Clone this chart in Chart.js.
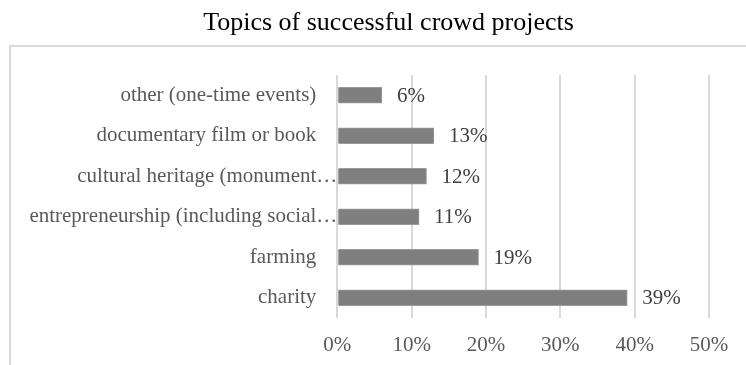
<!DOCTYPE html>
<html>
<head>
<meta charset="utf-8">
<script src="https://cdn.jsdelivr.net/npm/chart.js@4/dist/chart.umd.min.js"></script>
<style>
  html, body { margin: 0; padding: 0; background: #ffffff; }
  #wrap { width: 746px; height: 365px; position: relative; }
</style>
</head>
<body>
<div id="wrap"><canvas id="c" width="746" height="365"></canvas></div>
<script>
const titleText = "Topics of successful crowd projects";
const categories = [
  "other (one-time events)",
  "documentary film or book",
  "cultural heritage (monument\u2026",
  "entrepreneurship (including social\u2026",
  "farming",
  "charity"
];
const shares = [6, 13, 12, 11, 19, 39];
const xTicks = [0, 10, 20, 30, 40, 50];

const FONT = '"Liberation Serif", "Times New Roman", Times, serif';

const framePlugin = {
  id: 'frame',
  beforeDraw(chart) {
    const ctx = chart.ctx;
    ctx.save();
    ctx.strokeStyle = '#d9d9d9';
    ctx.lineWidth = 2;
    ctx.strokeRect(10, 46, 800, 400);
    ctx.restore();
  },
  afterDraw(chart) {
    const ctx = chart.ctx;
    ctx.save();
    ctx.fillStyle = '#000000';
    ctx.font = '26px ' + FONT;
    ctx.textAlign = 'center';
    ctx.textBaseline = 'alphabetic';
    ctx.fillText(titleText, 388.5, 30);
    ctx.restore();
  }
};

const valueLabels = {
  id: 'valueLabels',
  afterDatasetsDraw(chart) {
    const ctx = chart.ctx;
    const meta = chart.getDatasetMeta(0);
    const data = chart.data.datasets[0].data;
    ctx.save();
    ctx.fillStyle = '#404040';
    ctx.font = '21px ' + FONT;
    ctx.textAlign = 'left';
    ctx.textBaseline = 'middle';
    meta.data.forEach((bar, i) => {
      ctx.fillText(data[i] + '%', bar.x + 15, bar.y + 1);
    });
    ctx.restore();
  }
};

new Chart(document.getElementById('c'), {
  type: 'bar',
  data: {
    labels: categories,
    datasets: [{
      data: shares,
      backgroundColor: '#7f7f7f',
      borderColor: '#9a9a9a',
      borderWidth: 1,
      borderSkipped: 'start',
      barThickness: 16
    }]
  },
  options: {
    indexAxis: 'y',
    responsive: false,
    animation: false,
    events: [],
    layout: { padding: { left: 10, right: 37, top: 75, bottom: 0 } },
    plugins: {
      legend: { display: false },
      title: { display: false },
      tooltip: { enabled: false }
    },
    scales: {
      x: {
        min: 0,
        max: 50,
        afterBuildTicks(scale) { scale.ticks = xTicks.map(v => ({ value: v })); },
        afterFit(scale) { scale.height = 47; },
        grid: { color: '#d9d9d9', lineWidth: 2, drawTicks: false },
        border: { display: false },
        ticks: {
          padding: 15,
          color: '#595959',
          font: { family: FONT, size: 21 },
          callback: v => v + '%'
        }
      },
      y: {
        afterFit(scale) { scale.width = 327.3; },
        grid: { display: false, drawTicks: false },
        border: { display: false },
        ticks: {
          padding: 0,
          color: '#595959',
          font: { family: FONT, size: 21 },
          callback(value) {
            const s = this.getLabelForValue(value);
            return s.endsWith('\u2026') ? s : s + '\u2002\u2002';
          }
        }
      }
    }
  },
  plugins: [framePlugin, valueLabels]
});
</script>
</body>
</html>
